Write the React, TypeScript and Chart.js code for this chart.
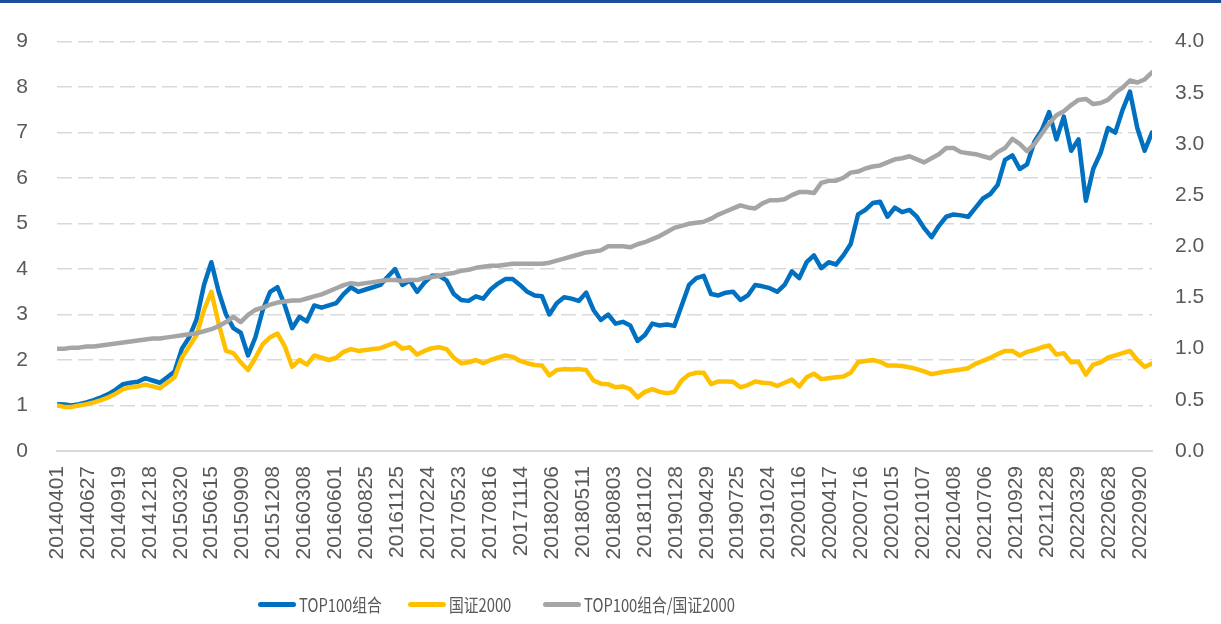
import React, { useEffect, useRef } from "react";
import { Chart, registerables } from "chart.js";

Chart.register(...registerables);

const TICK_LABELS = [
  "20140401", "20140627", "20140919", "20141218", "20150320", "20150615",
  "20150909", "20151208", "20160308", "20160601", "20160825", "20161125",
  "20170224", "20170523", "20170816", "20171114", "20180206", "20180511",
  "20180803", "20181102", "20190128", "20190429", "20190725", "20191024",
  "20200116", "20200417", "20200716", "20201015", "20210107", "20210408",
  "20210706", "20210929", "20211228", "20220329", "20220628", "20220920",
];

// samples between two consecutive tick labels
const POINTS_PER_LABEL = 4.21;

const TOP100 = [
  1.03, 1.02, 1.0, 1.03, 1.07, 1.12, 1.18, 1.25, 1.35, 1.47,
  1.5, 1.52, 1.6, 1.55, 1.5, 1.62, 1.75, 2.25, 2.5, 2.9,
  3.65, 4.15, 3.5, 3.0, 2.7, 2.6, 2.1, 2.5, 3.1, 3.5,
  3.6, 3.2, 2.7, 2.95, 2.85, 3.2, 3.15, 3.2, 3.25, 3.45,
  3.6, 3.5, 3.55, 3.6, 3.65, 3.83, 4.0, 3.65, 3.75, 3.5,
  3.7, 3.85, 3.85, 3.75, 3.45, 3.32, 3.3, 3.4, 3.35, 3.55,
  3.68, 3.78, 3.78, 3.65, 3.5, 3.42, 3.4, 3.0, 3.25, 3.38,
  3.35, 3.3, 3.48, 3.1, 2.88, 3.0, 2.8, 2.84, 2.76, 2.42,
  2.55, 2.8, 2.76, 2.78, 2.75, 3.2, 3.65, 3.8, 3.85, 3.45,
  3.42, 3.48, 3.5, 3.32, 3.42, 3.65, 3.62, 3.58, 3.5, 3.65,
  3.95, 3.8, 4.15, 4.3, 4.02, 4.15, 4.1, 4.3, 4.55, 5.2,
  5.3, 5.45, 5.48, 5.15, 5.35, 5.25, 5.3, 5.15, 4.9, 4.7,
  4.95, 5.15, 5.2, 5.18, 5.15, 5.35, 5.55, 5.65, 5.85, 6.4,
  6.5, 6.2, 6.3, 6.8, 7.05, 7.45, 6.85, 7.35, 6.6, 6.85,
  5.5, 6.2, 6.55, 7.1, 7.0, 7.5, 7.9, 7.1, 6.6, 7.0,
];

const GZ2000 = [
  1.0, 0.97, 0.97, 1.0, 1.03, 1.07, 1.12, 1.18, 1.26, 1.36,
  1.4, 1.42, 1.46, 1.42, 1.38, 1.5, 1.62, 2.05, 2.3, 2.55,
  3.1, 3.5, 2.8, 2.2, 2.15, 1.95, 1.78, 2.05, 2.35, 2.5,
  2.58, 2.3, 1.85, 2.0, 1.9, 2.1, 2.05, 2.0, 2.05, 2.18,
  2.24, 2.2, 2.22, 2.24, 2.26, 2.32, 2.38, 2.25, 2.28, 2.12,
  2.2, 2.26, 2.28, 2.24, 2.05, 1.93, 1.95, 2.0, 1.93, 2.0,
  2.05, 2.1, 2.07, 1.98, 1.93, 1.89, 1.88, 1.66, 1.78, 1.8,
  1.79, 1.8, 1.78, 1.55, 1.48, 1.47, 1.4, 1.42, 1.36, 1.18,
  1.3, 1.36, 1.3, 1.27, 1.3, 1.55, 1.68, 1.72, 1.72, 1.47,
  1.53, 1.53, 1.52, 1.4, 1.45, 1.53, 1.5, 1.49, 1.43, 1.5,
  1.57, 1.42, 1.62, 1.7, 1.58, 1.6, 1.62, 1.64, 1.72, 1.95,
  1.98, 2.0, 1.96, 1.88, 1.88, 1.87, 1.84, 1.8, 1.75, 1.69,
  1.72, 1.75, 1.77, 1.79, 1.82, 1.92, 1.98, 2.05, 2.13, 2.2,
  2.2, 2.1, 2.18, 2.22, 2.28, 2.32, 2.12, 2.15, 1.95, 1.96,
  1.68, 1.9, 1.95, 2.05, 2.1, 2.15, 2.2, 2.0, 1.85, 1.92,
];

const RATIO = [
  1.0, 1.0, 1.01, 1.01, 1.02, 1.02, 1.03, 1.04, 1.05, 1.06,
  1.07, 1.08, 1.09, 1.1, 1.1, 1.11, 1.12, 1.13, 1.14, 1.15,
  1.17, 1.19, 1.22, 1.26, 1.31, 1.26, 1.33, 1.38, 1.4, 1.43,
  1.45, 1.46, 1.47, 1.47, 1.49, 1.51, 1.53, 1.56, 1.59, 1.62,
  1.64, 1.63, 1.64, 1.65, 1.66, 1.67, 1.67, 1.66, 1.67, 1.67,
  1.69, 1.7, 1.71, 1.73, 1.74, 1.76, 1.77, 1.79, 1.8, 1.81,
  1.81, 1.82, 1.83, 1.83, 1.83, 1.83, 1.83, 1.84, 1.86, 1.88,
  1.9, 1.92, 1.94, 1.95, 1.96, 2.0, 2.0, 2.0, 1.99, 2.02,
  2.04, 2.07, 2.1, 2.14, 2.18, 2.2, 2.22, 2.23, 2.24, 2.27,
  2.31, 2.34, 2.37, 2.4, 2.38, 2.37, 2.42, 2.45, 2.45, 2.46,
  2.5, 2.53, 2.53, 2.52, 2.62, 2.64, 2.64, 2.67, 2.72, 2.73,
  2.76, 2.78, 2.79, 2.82, 2.85, 2.86, 2.88, 2.85, 2.82, 2.86,
  2.9, 2.96, 2.96, 2.92, 2.91, 2.9, 2.88, 2.86, 2.92, 2.96,
  3.05, 3.0, 2.93, 3.0, 3.1, 3.2, 3.28, 3.32, 3.38, 3.43,
  3.44, 3.39, 3.4, 3.43, 3.5, 3.55, 3.62, 3.6, 3.63, 3.7,
];

const SERIES_NAMES = ["TOP100组合", "国证2000", "TOP100组合/国证2000"];
const SERIES_COLORS = ["#0070C0", "#FFC000", "#A5A5A5"];
const LEGEND_LEFT = [258, 408, 543];

const TICK_COLOR = "#595959";
const TICK_FONT = { family: "'Liberation Sans', Arial, sans-serif", size: 21 };

export default function App() {
  const canvasRef = useRef<HTMLCanvasElement | null>(null);

  useEffect(() => {
    if (!canvasRef.current) return;
    const toXY = (arr: number[]) => arr.map((y, i) => ({ x: i, y }));
    const seriesData = [TOP100, GZ2000, RATIO];
    const axisIds = ["y", "y", "y1"];
    const orders = [3, 2, 1];

    const chart = new Chart(canvasRef.current, {
      type: "line",
      data: {
        datasets: seriesData.map((d, k) => ({
          label: SERIES_NAMES[k],
          data: toXY(d),
          borderColor: SERIES_COLORS[k],
          backgroundColor: SERIES_COLORS[k],
          yAxisID: axisIds[k],
          order: orders[k],
          borderWidth: 4.5,
          pointRadius: 0,
          tension: 0,
          borderJoinStyle: "round",
          borderCapStyle: "round",
        })),
      },
      options: {
        animation: false,
        responsive: true,
        maintainAspectRatio: false,
        layout: { padding: { top: 33, bottom: 53, left: 0, right: 0 } },
        plugins: {
          legend: { display: false },
          tooltip: { enabled: false },
        },
        scales: {
          x: {
            type: "linear",
            min: 0,
            max: TOP100.length - 1,
            afterBuildTicks: (scale: any) => {
              scale.ticks = TICK_LABELS.map((_, i) => ({ value: i * POINTS_PER_LABEL }));
            },
            afterFit: (scale: any) => {
              scale.height = 120;
            },
            grid: { display: false, drawTicks: false },
            border: { display: true, color: "#D9D9D9", width: 2 },
            ticks: {
              autoSkip: false,
              minRotation: 90,
              maxRotation: 90,
              padding: 15,
              color: TICK_COLOR,
              font: TICK_FONT,
              callback: (_v: any, i: number) => TICK_LABELS[i],
            },
          },
          y: {
            position: "left",
            min: 0,
            max: 9,
            afterFit: (scale: any) => {
              scale.width = 57;
            },
            ticks: { stepSize: 1, padding: 29, color: TICK_COLOR, font: TICK_FONT },
            grid: { color: "#D9D9D9", lineWidth: 1.5, drawTicks: false },
            border: { display: false, dash: [15, 6] },
          },
          y1: {
            position: "right",
            min: 0,
            max: 4,
            afterFit: (scale: any) => {
              scale.width = 69;
            },
            ticks: {
              stepSize: 0.5,
              padding: 23,
              color: TICK_COLOR,
              font: TICK_FONT,
              callback: (v: any) => Number(v).toFixed(1),
            },
            grid: { drawOnChartArea: false, drawTicks: false },
            border: { display: false },
          },
        },
      } as any,
    });
    return () => chart.destroy();
  }, []);

  return (
    <div
      style={{
        position: "fixed",
        left: 0,
        top: 0,
        width: 1221,
        height: 624,
        background: "#ffffff",
        overflow: "hidden",
      }}
    >
      <div style={{ position: "absolute", left: 0, top: 0, width: "100%", height: 3, background: "#1D4E9E" }} />
      <div style={{ position: "absolute", left: 0, top: 0, width: 1221, height: 624 }}>
        <canvas ref={canvasRef} />
      </div>
      {SERIES_NAMES.map((name, k) => (
        <div
          key={name}
          style={{
            position: "absolute",
            left: LEGEND_LEFT[k],
            top: 592,
            height: 24,
            display: "flex",
            alignItems: "center",
            fontFamily: "'Noto Sans CJK SC', sans-serif",
            fontSize: 18,
            color: TICK_COLOR,
            whiteSpace: "nowrap",
          }}
        >
          <span
            style={{
              display: "inline-block",
              width: 38,
              height: 5,
              borderRadius: 2.5,
              background: SERIES_COLORS[k],
              marginRight: 3,
            }}
          />
          <span style={{ display: "inline-block", transform: "scaleX(0.82)", transformOrigin: "left center" }}>
            {name}
          </span>
        </div>
      ))}
    </div>
  );
}
